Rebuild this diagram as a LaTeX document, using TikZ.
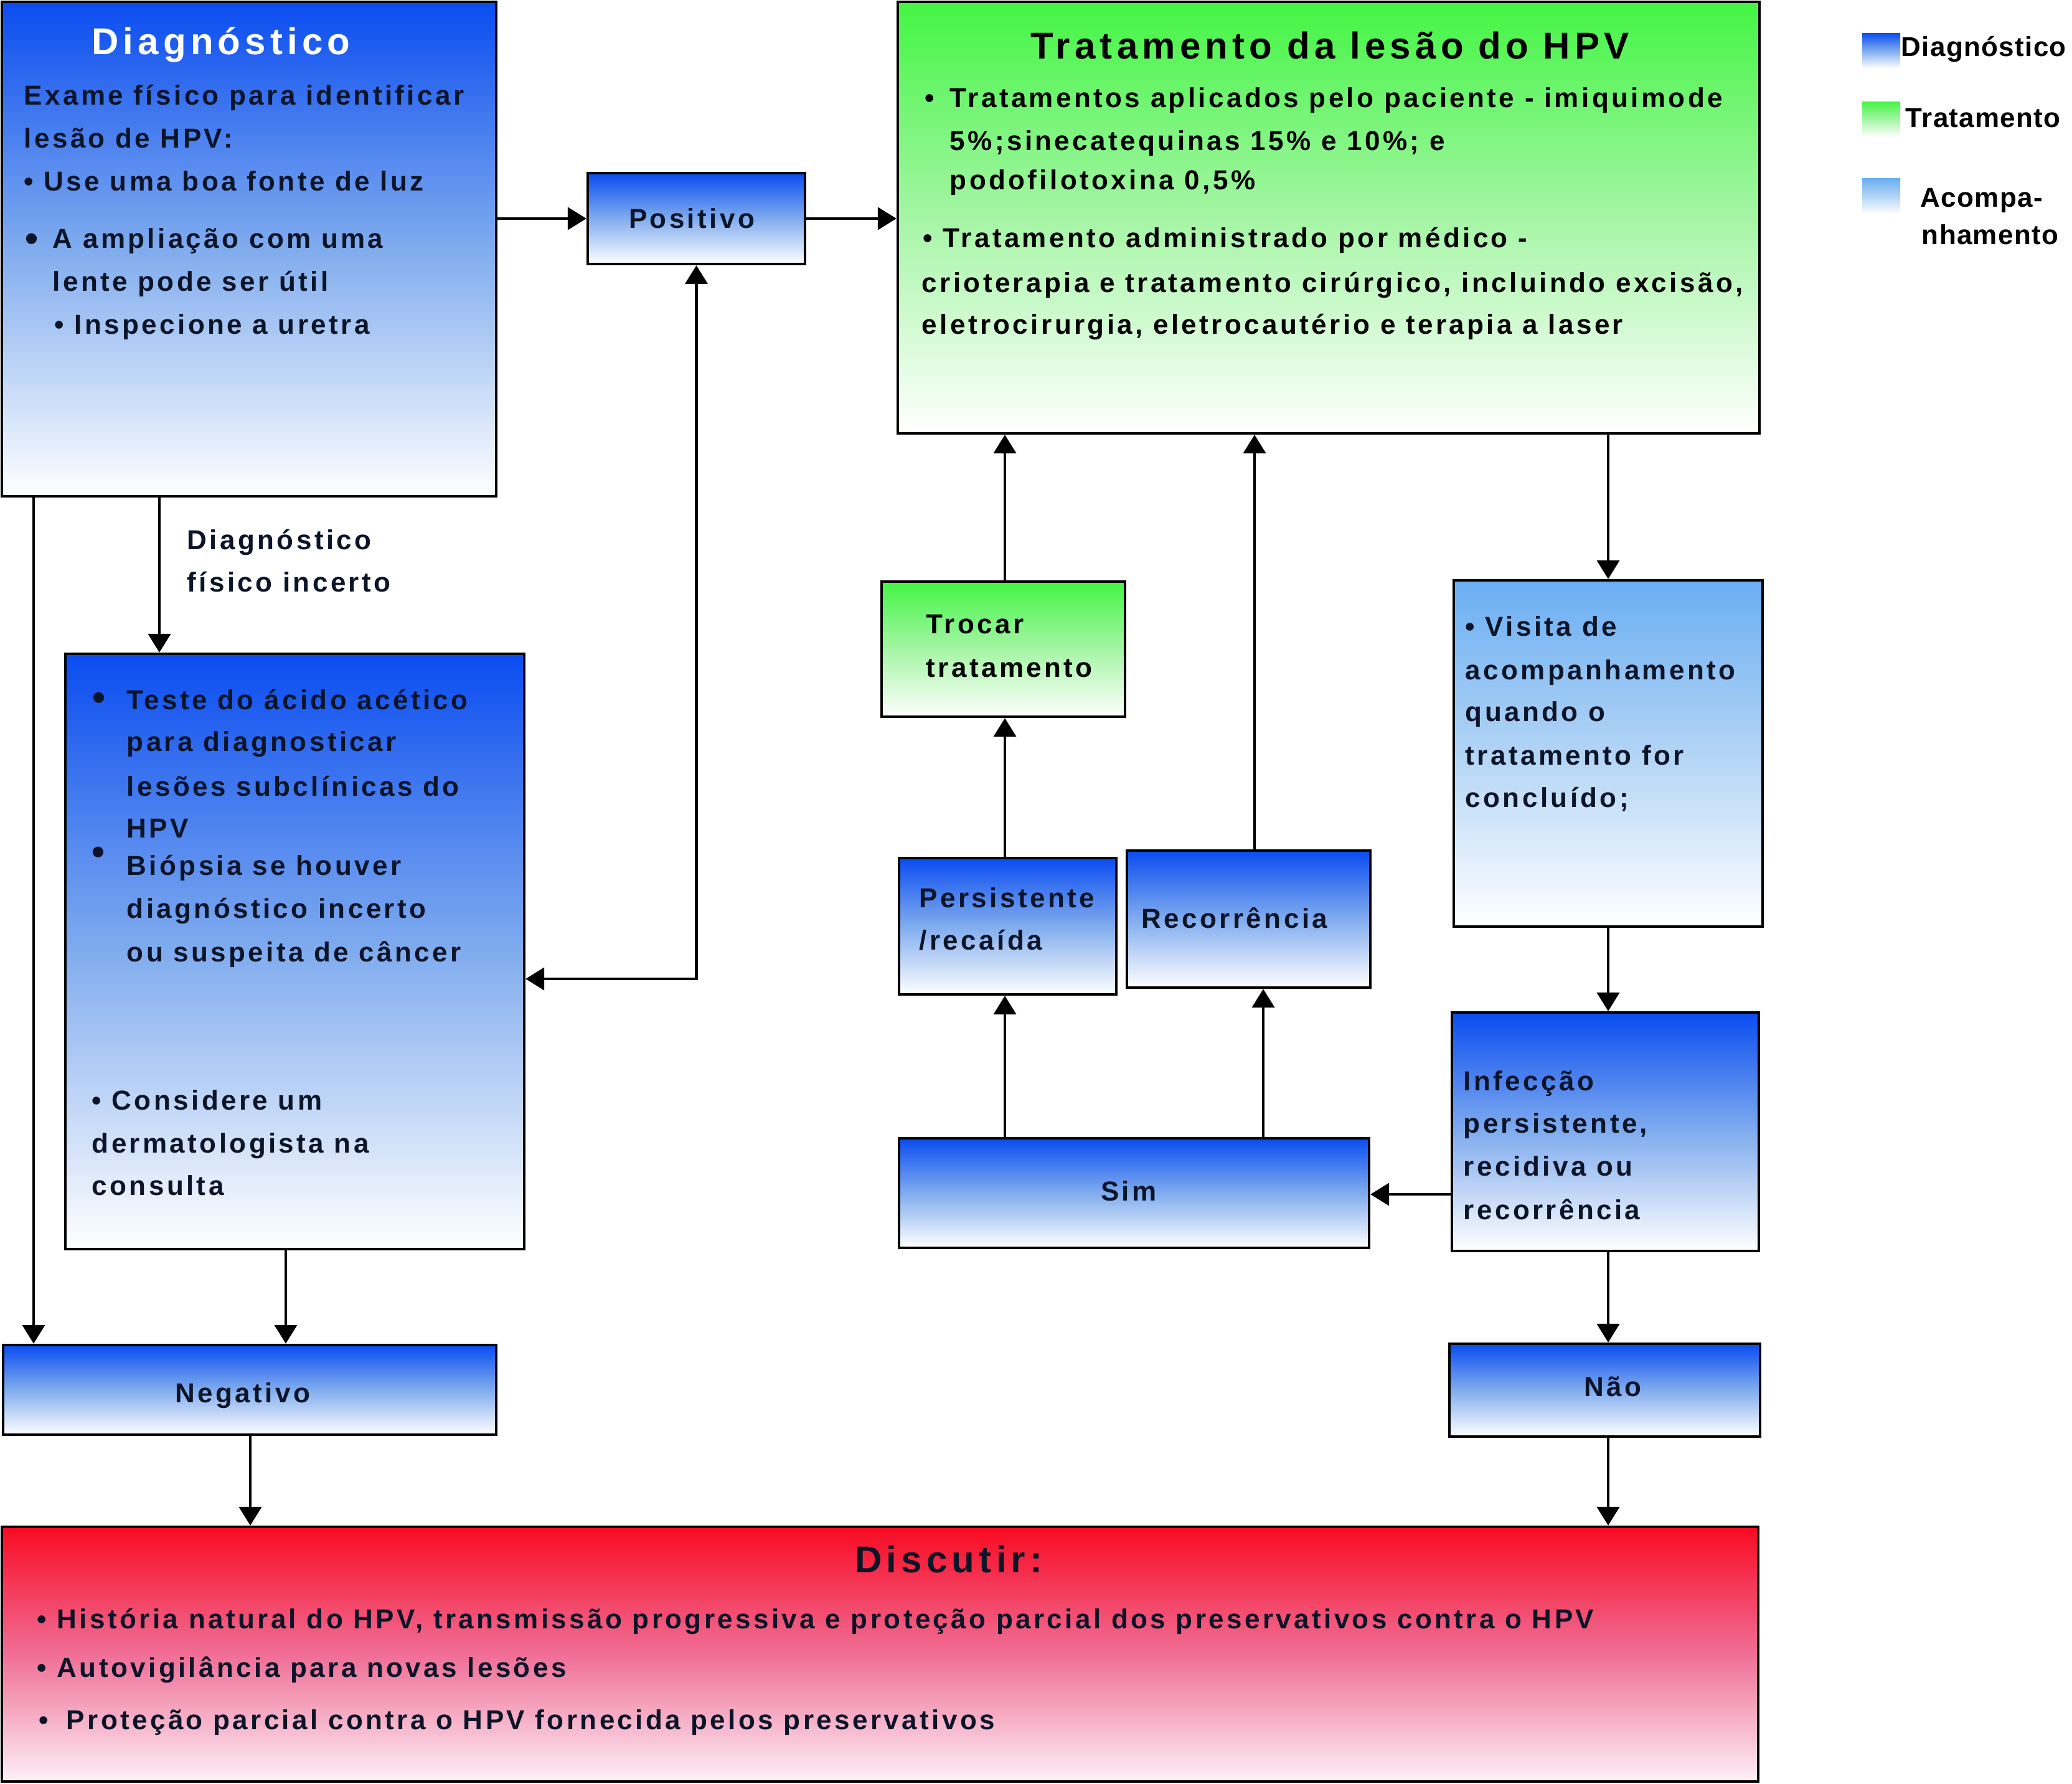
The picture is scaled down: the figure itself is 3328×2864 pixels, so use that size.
\documentclass[tikz,border=0pt]{standalone}
\usepackage{fontspec}
\setmainfont{Liberation Sans}
\newfontfamily\bodyf[LetterSpace=10]{Liberation Sans}
\newfontfamily\titlef[LetterSpace=12]{Liberation Sans}
\newfontfamily\legf[LetterSpace=3]{Liberation Sans}
\usetikzlibrary{arrows.meta}
\definecolor{dtop}{RGB}{10,76,240}
\definecolor{dmid}{RGB}{128,172,238}
\definecolor{gtop}{RGB}{68,245,68}
\definecolor{gmid}{RGB}{165,245,165}
\definecolor{ltop}{RGB}{106,174,242}
\definecolor{lmid}{RGB}{178,212,245}
\definecolor{rtop}{RGB}{248,10,34}
\definecolor{rmid}{RGB}{240,110,150}
\definecolor{rbot}{RGB}{252,240,246}
\definecolor{navy}{RGB}{12,20,40}
\begin{document}
\begin{tikzpicture}[x=0.25pt,y=-0.25pt,
  box/.style={draw=black, line width=1.1pt, rectangle, inner sep=0pt},
  bluebox/.style={box, top color=dtop, bottom color=white, middle color=dmid},
  greenbox/.style={box, top color=gtop, bottom color=white, middle color=gmid},
  lightbox/.style={box, top color=ltop, bottom color=white, middle color=lmid},
  redbox/.style={box, top color=rtop, bottom color=rbot, middle color=rmid},
  legsq/.style={rectangle, inner sep=0pt, minimum width=15.25pt, minimum height=14.25pt},
  arr/.style={line width=1.1pt, -{Triangle[length=7.5pt,width=9pt]}},
  darr/.style={line width=1.1pt, {Triangle[length=7.5pt,width=9pt]}-{Triangle[length=7.5pt,width=9pt]}},
  tx/.style={anchor=base west, inner sep=0pt, font=\bodyf\bfseries\fontsize{11}{13}\selectfont, text=navy},
  txk/.style={tx, text=black},
  txc/.style={tx, anchor=base},
  ttl/.style={anchor=base, inner sep=0pt, font=\titlef\bfseries\fontsize{15}{18}\selectfont},
  bigbul/.style={anchor=base, inner sep=0pt, font=\bodyf\bfseries\fontsize{15}{15}\selectfont, text=navy},
  leg/.style={anchor=base west, inner sep=0pt, font=\legf\bfseries\fontsize{11}{13}\selectfont, text=black}
]
\useasboundingbox (0,0) rectangle (3328,2864);

% boxes
\node[bluebox, minimum width=198.5pt, minimum height=198.5pt] (diag) at (400,400) {};
\node[bluebox, minimum width=87.25pt, minimum height=36.5pt] (pos) at (1118.5,351) {};
\node[greenbox, minimum width=346pt, minimum height=173.25pt] (trat) at (2134,349.5) {};
\node[bluebox, minimum width=184.25pt, minimum height=239pt] (acet) at (473.5,1528) {};
\node[greenbox, minimum width=97.75pt, minimum height=54.25pt] (troc) at (1611.5,1042.5) {};
\node[bluebox, minimum width=87.25pt, minimum height=54.75pt] (pers) at (1618.5,1487.5) {};
\node[bluebox, minimum width=97.75pt, minimum height=55pt] (recor) at (2005.5,1476) {};
\node[lightbox, minimum width=124pt, minimum height=139pt] (visit) at (2583,1210) {};
\node[bluebox, minimum width=123.25pt, minimum height=95.75pt] (infec) at (2578.5,1817.5) {};
\node[bluebox, minimum width=188.75pt, minimum height=44pt] (sim) at (1821.5,1916) {};
\node[bluebox, minimum width=198pt, minimum height=36pt] (neg) at (401,2232) {};
\node[bluebox, minimum width=124.75pt, minimum height=37.25pt] (nao) at (2577.5,2232.5) {};
\node[redbox, minimum width=705.25pt, minimum height=102.25pt] (disc) at (1413.5,2656.5) {};

% legend
\node[legsq, top color=dtop, bottom color=white, middle color=dmid] (lg1) at (3021.5,81.5) {};
\node[legsq, top color=gtop, bottom color=white, middle color=gmid] (lg2) at (3021.5,191.5) {};
\node[legsq, top color=ltop, bottom color=white, middle color=lmid] (lg3) at (3021.5,315) {};
\node[leg] (lt1) at (3053,90) {Diagnóstico};
\node[leg] (lt2) at (3060,204) {Tratamento};
\node[leg] (lt3) at (3084,332) {Acompa-};
\node[leg] (lt4) at (3086,392) {nhamento};

% Diagnóstico texts
\node[ttl, text=white] (dT) at (355,87) {Diagnóstico};
\node[tx] (d1) at (38,168) {Exame físico para identificar};
\node[tx] (d2) at (38,237) {lesão de HPV:};
\node[tx] (d3) at (38,306) {• Use uma boa fonte de luz};
\node[bigbul] (d4b) at (51,403) {•};
\node[tx] (d4) at (84,398) {A ampliação com uma};
\node[tx] (d5) at (84,467) {lente pode ser útil};
\node[tx] (d6) at (87,536) {• Inspecione a uretra};

% label
\node[tx] (lab1) at (300,882) {Diagnóstico};
\node[tx] (lab2) at (300,950) {físico incerto};

% acetic box texts
\node[bigbul] (a1b) at (159,1140) {•};
\node[tx] (a1) at (203,1139) {Teste do ácido acético};
\node[tx] (a2) at (203,1206) {para diagnosticar};
\node[tx] (a3) at (203,1278) {lesões subclínicas do};
\node[tx] (a4) at (203,1345) {HPV};
\node[bigbul] (a5b) at (158,1388) {•};
\node[tx] (a5) at (203,1405) {Biópsia se houver};
\node[tx] (a6) at (203,1474) {diagnóstico incerto};
\node[tx] (a7) at (203,1544) {ou suspeita de câncer};
\node[tx] (a8) at (147,1782) {• Considere um};
\node[tx] (a9) at (147,1851) {dermatologista na};
\node[tx] (a10) at (147,1919) {consulta};

% Positivo etc
\node[txc] (posT) at (1111,366) {Positivo};
\node[txc] (negT) at (390,2252) {Negativo};
\node[txc] (simT) at (1813,1928) {Sim};
\node[txc] (naoT) at (2590,2242) {Não};

% Tratamento texts
\node[ttl, text=black] (tT) at (2136,94) {Tratamento da lesão do HPV};
\node[txk] (t1b) at (1485,172) {•};
\node[txk] (t1) at (1525,172) {Tratamentos aplicados pelo paciente - imiquimode};
\node[txk] (t2) at (1525,241) {5\%;sinecatequinas 15\% e 10\%; e};
\node[txk] (t3) at (1525,304) {podofilotoxina 0,5\%};
\node[txk] (t4) at (1482,397) {• Tratamento administrado por médico -};
\node[txk] (t5) at (1480,469) {crioterapia e tratamento cirúrgico, incluindo excisão,};
\node[txk] (t6) at (1480,536) {eletrocirurgia, eletrocautério e terapia a laser};

% small boxes texts
\node[txk] (tr1) at (1487,1017) {Trocar};
\node[txk] (tr2) at (1487,1087) {tratamento};
\node[tx] (p1) at (1476,1457) {Persistente};
\node[tx] (p2) at (1476,1525) {/recaída};
\node[tx] (r1) at (1833,1490) {Recorrência};
\node[tx] (v1) at (2353,1021) {• Visita de};
\node[tx] (v2) at (2353,1091) {acompanhamento};
\node[tx] (v3) at (2353,1158) {quando o};
\node[tx] (v4) at (2353,1228) {tratamento for};
\node[tx] (v5) at (2353,1296) {concluído;};
\node[tx] (i1) at (2350,1751) {Infecção};
\node[tx] (i2) at (2350,1819) {persistente,};
\node[tx] (i3) at (2350,1888) {recidiva ou};
\node[tx] (i4) at (2350,1958) {recorrência};

% Discutir texts
\node[ttl, text=navy] (dsT) at (1524,2525) {Discutir:};
\node[tx] (ds1) at (59,2615) {• História natural do HPV, transmissão progressiva e proteção parcial dos preservativos contra o HPV};
\node[tx] (ds2) at (59,2693) {• Autovigilância para novas lesões};
\node[tx] (ds3b) at (62,2777) {•};
\node[tx] (ds3) at (106,2777) {Proteção parcial contra o HPV fornecida pelos preservativos};

% column coordinates
\coordinate (c0) at (54,0);
\coordinate (c1) at (256,0);
\coordinate (c2) at (459,0);
\coordinate (c3) at (402,0);
\coordinate (c4) at (1614,0);
\coordinate (c5) at (2015,0);
\coordinate (c6) at (2029,0);
\coordinate (c7) at (2583,0);
\coordinate (yL) at (0,1572);
\coordinate (yS) at (0,1918);

% connectors
\draw[arr] (pos.west -| diag.east) -- (pos.west);
\draw[arr] (pos.east) -- (pos.east -| trat.west);
\draw[arr] (diag.south -| c1) -- (acet.north -| c1);
\draw[arr] (diag.south -| c0) -- (neg.north -| c0);
\draw[arr] (acet.south -| c2) -- (neg.north -| c2);
\draw[arr] (neg.south -| c3) -- (disc.north -| c3);
\draw[darr] (pos.south) -- (pos.south |- yL) -- (acet.east |- yL);
\draw[arr] (troc.north -| c4) -- (trat.south -| c4);
\draw[arr] (pers.north -| c4) -- (troc.south -| c4);
\draw[arr] (sim.north -| c4) -- (pers.south -| c4);
\draw[arr] (recor.north -| c5) -- (trat.south -| c5);
\draw[arr] (sim.north -| c6) -- (recor.south -| c6);
\draw[arr] (trat.south -| c7) -- (visit.north -| c7);
\draw[arr] (visit.south -| c7) -- (infec.north -| c7);
\draw[arr] (infec.south -| c7) -- (nao.north -| c7);
\draw[arr] (nao.south -| c7) -- (disc.north -| c7);
\draw[arr] (infec.west |- yS) -- (sim.east |- yS);
\end{tikzpicture}
\end{document}
